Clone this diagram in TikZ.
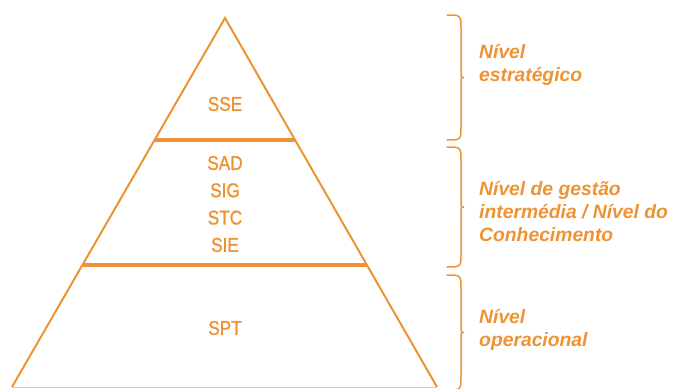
\documentclass[tikz,border=0pt]{standalone}
\usepackage{fontspec}
\setmainfont{Liberation Sans}
\newfontfamily\narrowfont[FakeStretch=0.86,FakeBold=1.3]{Liberation Sans}
\usetikzlibrary{calc}

\definecolor{pyrorange}{RGB}{238,146,52}

\tikzset{
  layer/.style={font=\narrowfont\fontsize{20}{27.3}\selectfont, text=pyrorange, align=center, inner sep=0pt},
  level/.style={font=\bfseries\itshape\fontsize{19.3}{23}\selectfont, text=pyrorange, align=left, anchor=north west, inner sep=0pt},
  edge/.style={draw=pyrorange, line width=2pt},
  cut/.style={draw=pyrorange, line width=4pt},
  bracket/.style={draw=pyrorange, line width=1.5pt, line cap=round},
}

% curly bracket on the right: #1 = top, #2 = bottom (y in px)
\newcommand\levelbrace[2]{%
  \draw[bracket] (447,#1) .. controls (461,#1) .. (461,#1+14)
    -- (461,{(#1+#2)/2-6}) .. controls (461,{(#1+#2)/2}) .. (464,{(#1+#2)/2})
    .. controls (461,{(#1+#2)/2}) .. (461,{(#1+#2)/2+6})
    -- (461,#2-14) .. controls (461,#2) .. (447,#2);}

\begin{document}
\begin{tikzpicture}[x=1pt,y=-1pt]
  \useasboundingbox (0,0) rectangle (676,388);

  % pyramid
  \coordinate (apex) at (225,18);
  \coordinate (bl) at (12,387);
  \coordinate (br) at (437,387);
  \draw[edge] (bl) -- (apex) -- (br);
  \draw[draw=pyrorange!60, line width=1pt] (bl) -- (br);

  % the two dividing bands
  \coordinate (c1l) at ($(apex)!0.3306!(bl)$);
  \coordinate (c1r) at ($(apex)!0.3306!(br)$);
  \coordinate (c2l) at ($(apex)!0.669!(bl)$);
  \coordinate (c2r) at ($(apex)!0.669!(br)$);
  \draw[cut] (c1l) -- (c1r);
  \draw[cut] (c2l) -- (c2r);

  \node[layer] (sse) at (225,104) {SSE};
  \node[layer] (mid) at (225,204) {SAD\\SIG\\STC\\SIE};
  \node[layer] (spt) at (225,328) {SPT};

  % levels
  \levelbrace{15}{140}
  \levelbrace{147}{267}
  \levelbrace{275}{390}

  \node[level] (strat) at (479,44) {Nível\\estratégico};
  \node[level] (gest) at (479,181) {Nível de gestão\\intermédia / Nível do\\Conhecimento};
  \node[level] (oper) at (479,309) {Nível\\operacional};
\end{tikzpicture}
\end{document}
